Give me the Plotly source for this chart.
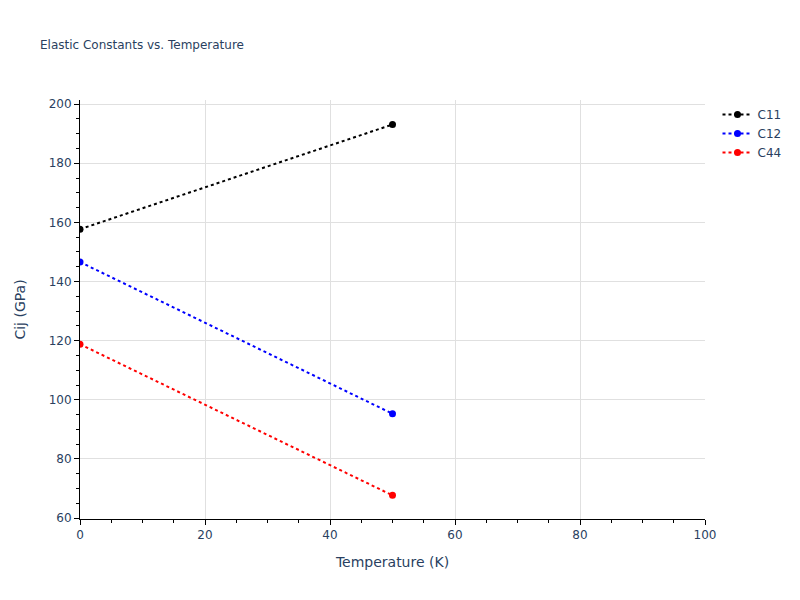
import plotly.graph_objects as go

temperature = [0, 50]
c11 = [157.7, 193.1]
c12 = [146.6, 95.3]
c44 = [118.8, 67.7]

series = [("C11", c11, "black"), ("C12", c12, "blue"), ("C44", c44, "red")]

fig = go.Figure()
for name, vals, color in series:
    fig.add_trace(go.Scatter(x=temperature, y=vals, mode="lines+markers", name=name,
                             line=dict(color=color, dash="dot", width=2),
                             marker=dict(color=color, size=7)))

fig.update_layout(
    template="plotly_white",
    width=800, height=600,
    font=dict(family="DejaVu Sans, Verdana, sans-serif"),
    title=dict(text="Elastic Constants vs. Temperature", font=dict(size=12),
               x=0.04, xanchor="left", y=0.938, yanchor="middle"),
    margin=dict(l=72, r=103, t=92, b=89),
    xaxis=dict(title="Temperature (K)", range=[0, 100], showline=True, linecolor="black",
               ticks="outside", tickcolor="black", ticklen=5, dtick=20,
               minor=dict(ticks="outside", ticklen=3, dtick=5, tickcolor="black"),
               gridcolor="#e0e0e0", zeroline=False),
    yaxis=dict(title=dict(text="Cij (GPa)", standoff=19), range=[59.7, 201.4], showline=True,
               linecolor="black",
               ticks="outside", tickcolor="black", ticklen=5, dtick=20,
               minor=dict(ticks="outside", ticklen=3, dtick=5, tickcolor="black"),
               gridcolor="#e0e0e0", zeroline=False),
    legend=dict(x=1.02, y=1, font=dict(size=12)),
)

fig.write_html("out.html")
